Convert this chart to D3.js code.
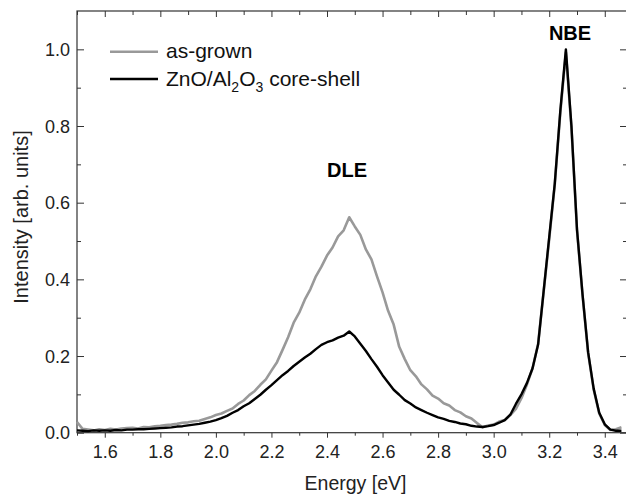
<!DOCTYPE html>
<html>
<head>
<meta charset="utf-8">
<script src="https://cdn.jsdelivr.net/npm/d3@7"></script>
<style>
  body { margin: 0; background: #fff; }
  text { font-family: "Liberation Sans", Arial, sans-serif; }
</style>
</head>
<body>
<svg width="626" height="495"></svg>
<script>
// size of the picture
var width = 626;
var height = 495;

// photon energy in eV, one point every 0.02 eV
const energy = d3.range(0, 99).map((i) => +(1.5 + i * 0.02).toFixed(2));

// as-grown nanowires (grey)
const asGrown = [
  0.028, 0.010, 0.008, 0.006, 0.009, 0.007, 0.010, 0.008, 0.011, 0.012,
  0.013, 0.011, 0.015, 0.014, 0.017, 0.018, 0.020, 0.021, 0.023, 0.026,
  0.027, 0.030, 0.031, 0.036, 0.040, 0.046, 0.050, 0.057, 0.063, 0.075,
  0.084, 0.098, 0.109, 0.125, 0.139, 0.162, 0.184, 0.216, 0.249, 0.287,
  0.313, 0.347, 0.374, 0.408, 0.433, 0.462, 0.483, 0.512, 0.528, 0.562,
  0.538, 0.516, 0.478, 0.452, 0.408, 0.366, 0.318, 0.282, 0.224, 0.192,
  0.163, 0.147, 0.126, 0.113, 0.097, 0.089, 0.077, 0.071, 0.059, 0.053,
  0.043, 0.037, 0.025, 0.014, 0.019, 0.021, 0.029, 0.033, 0.046, 0.062,
  0.090, 0.126, 0.168, 0.232, 0.368, 0.505, 0.648, 0.835, 0.992, 0.795,
  0.528, 0.358, 0.208, 0.113, 0.050, 0.020, 0.007, 0.009, 0.014
];

// ZnO/Al2O3 core-shell nanowires (black)
const coreShell = [
  0.006, 0.005, 0.004, 0.006, 0.005, 0.006, 0.005, 0.007, 0.006, 0.008,
  0.008, 0.009, 0.009, 0.010, 0.011, 0.012, 0.013, 0.014, 0.016, 0.017,
  0.019, 0.021, 0.023, 0.026, 0.029, 0.033, 0.038, 0.044, 0.052, 0.059,
  0.069, 0.077, 0.088, 0.099, 0.112, 0.124, 0.137, 0.150, 0.161, 0.174,
  0.185, 0.196, 0.206, 0.218, 0.229, 0.236, 0.241, 0.248, 0.253, 0.264,
  0.251, 0.232, 0.213, 0.192, 0.172, 0.150, 0.131, 0.112, 0.099, 0.085,
  0.076, 0.066, 0.059, 0.052, 0.046, 0.040, 0.036, 0.031, 0.028, 0.024,
  0.022, 0.018, 0.016, 0.015, 0.017, 0.020, 0.026, 0.033, 0.047, 0.075,
  0.100, 0.130, 0.168, 0.230, 0.370, 0.510, 0.650, 0.840, 1.000, 0.800,
  0.530, 0.360, 0.210, 0.115, 0.052, 0.022, 0.008, 0.005, 0.005
];

const xTicks = [1.6, 1.8, 2.0, 2.2, 2.4, 2.6, 2.8, 3.0, 3.2, 3.4];
const yTicks = [0.0, 0.2, 0.4, 0.6, 0.8, 1.0];

var svg = d3.select("svg").attr("width", width).attr("height", height);

// plot box
var boxLeft = 77, boxRight = 627, boxTop = 11, boxBottom = 432.7;

let xScale = d3.scaleLinear().domain([1.5, 3.48]).range([boxLeft, boxRight]);
let yScale = d3.scaleLinear().domain([0, 1.1]).range([boxBottom, boxTop]);

let axisColor = "#333";

// minor tick values
let xMinor = d3.range(1.5, 3.48, 0.1).map((v) => +v.toFixed(1)).filter((v) => !xTicks.includes(v));
let yMinor = d3.range(0.1, 1.1, 0.2).map((v) => +v.toFixed(1));

// bottom axis: ticks outward
svg.append("g").attr("transform", "translate(0," + boxBottom + ")")
    .call(d3.axisBottom(xScale).tickValues(xTicks).tickFormat(d3.format(".1f")).tickSize(5).tickPadding(8));
svg.append("g").attr("transform", "translate(0," + boxBottom + ")")
    .call(d3.axisBottom(xScale).tickValues(xMinor).tickFormat("").tickSize(3));

// top axis: ticks inward
svg.append("g").attr("transform", "translate(0," + boxTop + ")")
    .call(d3.axisBottom(xScale).tickValues(xTicks).tickFormat("").tickSize(6));
svg.append("g").attr("transform", "translate(0," + boxTop + ")")
    .call(d3.axisBottom(xScale).tickValues(xMinor).tickFormat("").tickSize(4));

// left axis: ticks inward
svg.append("g").attr("transform", "translate(" + boxLeft + ",0)")
    .call(d3.axisRight(yScale).tickValues(yTicks).tickFormat("").tickSize(7));
svg.append("g").attr("transform", "translate(" + boxLeft + ",0)")
    .call(d3.axisRight(yScale).tickValues(yMinor).tickFormat("").tickSize(4));

// right axis: ticks inward
svg.append("g").attr("transform", "translate(" + boxRight + ",0)")
    .call(d3.axisLeft(yScale).tickValues(yTicks).tickFormat("").tickSize(7));
svg.append("g").attr("transform", "translate(" + boxRight + ",0)")
    .call(d3.axisLeft(yScale).tickValues(yMinor).tickFormat("").tickSize(4));

svg.selectAll(".domain").remove();
svg.selectAll(".tick line").attr("stroke", axisColor).attr("stroke-width", 1);
svg.selectAll(".tick text").style("font-size", "18px").style("fill", "#222")
    .style("font-family", "Liberation Sans, Arial, sans-serif");

// y labels drawn outside the box
svg.append("g").selectAll("text").data(yTicks).enter().append("text")
    .attr("x", boxLeft - 7)
    .attr("y", (d) => yScale(d) + 6.5)
    .attr("text-anchor", "end")
    .style("font-size", "18px")
    .style("fill", "#222")
    .text((d) => d3.format(".1f")(d));

// frame
svg.append("rect")
    .attr("x", boxLeft).attr("y", boxTop)
    .attr("width", boxRight - boxLeft).attr("height", boxBottom - boxTop)
    .attr("fill", "none").attr("stroke", axisColor).attr("stroke-width", 1.2);

// the two spectra
let line = d3.line()
    .x((d) => xScale(d[0]))
    .y((d) => yScale(d[1]));

svg.append("path")
    .datum(energy.map((e, i) => [e, asGrown[i]]))
    .attr("d", line)
    .attr("fill", "none").attr("stroke", "#999").attr("stroke-width", 2.6)
    .attr("stroke-linejoin", "round");

svg.append("path")
    .datum(energy.map((e, i) => [e, coreShell[i]]))
    .attr("d", line)
    .attr("fill", "none").attr("stroke", "#000").attr("stroke-width", 2.4)
    .attr("stroke-linejoin", "round");

// legend
svg.append("line").attr("x1", 110).attr("x2", 158).attr("y1", 51.7).attr("y2", 51.7)
    .attr("stroke", "#999").attr("stroke-width", 2.6);
svg.append("line").attr("x1", 110).attr("x2", 158).attr("y1", 79).attr("y2", 79)
    .attr("stroke", "#000").attr("stroke-width", 2.4);

svg.append("text").attr("x", 166).attr("y", 58)
    .style("font-size", "21px").style("fill", "#111")
    .text("as-grown");

let leg2 = svg.append("text").attr("x", 166).attr("y", 86)
    .style("font-size", "21px").style("fill", "#111");
leg2.append("tspan").text("ZnO/Al");
leg2.append("tspan").attr("dy", 6).style("font-size", "14px").text("2");
leg2.append("tspan").attr("dy", -6).text("O");
leg2.append("tspan").attr("dy", 6).style("font-size", "14px").text("3");
leg2.append("tspan").attr("dy", -6).text(" core-shell");

// peak labels
svg.append("text").attr("x", 347).attr("y", 177)
    .attr("text-anchor", "middle")
    .style("font-size", "20px").style("font-weight", "bold")
    .text("DLE");

svg.append("text").attr("x", 570).attr("y", 40)
    .attr("text-anchor", "middle")
    .style("font-size", "20px").style("font-weight", "bold")
    .text("NBE");

// axis titles
svg.append("text")
    .style("font-size", "20px").style("fill", "#222")
    .attr("text-anchor", "middle")
    .attr("transform", "translate(28,217), rotate(-90)")
    .text("Intensity [arb. units]");

svg.append("text")
    .style("font-size", "19.5px").style("fill", "#222")
    .attr("text-anchor", "middle")
    .attr("transform", "translate(355.5,490)")
    .text("Energy [eV]");
</script>
</body>
</html>
